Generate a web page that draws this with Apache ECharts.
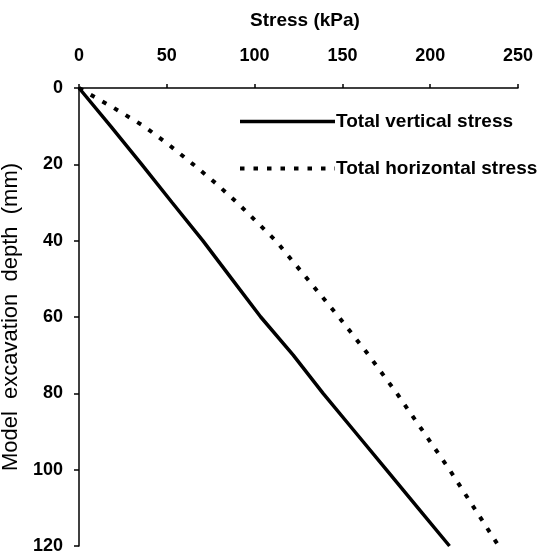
<!DOCTYPE html>
<html><head><meta charset="utf-8">
<script src="https://cdn.jsdelivr.net/npm/echarts@6/dist/echarts.min.js"></script>
<style>html,body{margin:0;padding:0;background:#fff}#c{width:540px;height:553px}</style>
</head><body><div id="c"></div>
<script>
const depthVertical = [0, 10, 20, 30, 40, 50, 60, 70, 80, 90, 100, 110, 120];
const stressVertical = [0, 18, 35.7, 53, 70.5, 87, 103.5, 122, 139, 157, 175, 193, 211];
const depthHorizontal = [0, 5, 10, 15, 20, 25, 30, 40, 50, 60, 70, 80, 90, 100, 110, 120];
const stressHorizontal = [0, 19, 37, 51.5, 65, 78, 90, 112, 130, 148, 165, 181, 196, 211, 225, 239];
const xTicks = [0, 50, 100, 150, 200, 250];
const yTicks = [0, 20, 40, 60, 80, 100, 120];
const seriesNames = ['Total vertical stress', 'Total horizontal stress'];
const xName = 'Stress (kPa)';
const yName = 'Model  excavation  depth  (mm)';

const font = 'Liberation Sans, Arial, sans-serif';
const chart = echarts.init(document.getElementById('c'), null, {renderer: 'canvas'});
chart.setOption({
  animation: false,
  backgroundColor: '#fff',
  grid: {left: 79, top: 88, right: 22, bottom: 7, containLabel: false, outerBoundsMode: 'none'},
  xAxis: {
    type: 'value', position: 'top', min: xTicks[0], max: xTicks[xTicks.length - 1], interval: 50,
    name: xName, nameLocation: 'middle', nameGap: 58,
    nameTextStyle: {fontFamily: font, fontWeight: 'bold', fontSize: 19, color: '#000', padding: [0, 0, 0, 13]},
    axisLine: {lineStyle: {color: '#000', width: 1.5}},
    axisTick: {show: true, length: 4, lineStyle: {color: '#000', width: 1.5}},
    axisLabel: {margin: 23, fontFamily: font, fontWeight: 'bold', fontSize: 18, color: '#000'},
    splitLine: {show: false}
  },
  yAxis: {
    type: 'value', inverse: true, min: yTicks[0], max: yTicks[yTicks.length - 1], interval: 20,
    name: yName, nameLocation: 'middle', nameGap: 47, nameRotate: 90,
    nameTextStyle: {fontFamily: font, fontSize: 22, color: '#000'},
    axisLine: {lineStyle: {color: '#000', width: 1.5}},
    axisTick: {show: true, length: 5, lineStyle: {color: '#000', width: 1.5}},
    axisLabel: {margin: 16, fontFamily: font, fontWeight: 'bold', fontSize: 18, color: '#000'},
    splitLine: {show: false}
  },
  legend: {
    orient: 'vertical', left: 238, top: 112, padding: 0, itemWidth: 95, itemHeight: 20, itemGap: 28,
    itemStyle: {opacity: 0},
    lineStyle: {width: 'inherit'},
    textStyle: {fontFamily: font, fontWeight: 'bold', fontSize: 19, color: '#000', padding: [0, 0, 0, -4]},
    data: seriesNames
  },
  series: [
    {
      name: seriesNames[0], type: 'line', symbol: 'none',
      data: depthVertical.map((d, i) => [stressVertical[i], d]),
      lineStyle: {color: '#000', width: 3.5}, itemStyle: {color: '#000'}
    },
    {
      name: seriesNames[1], type: 'line', symbol: 'none',
      data: depthHorizontal.map((d, i) => [stressHorizontal[i], d]),
      lineStyle: {color: '#000', width: 4, type: [4.5, 9]}, itemStyle: {color: '#000'}
    }
  ]
});
</script></body></html>
